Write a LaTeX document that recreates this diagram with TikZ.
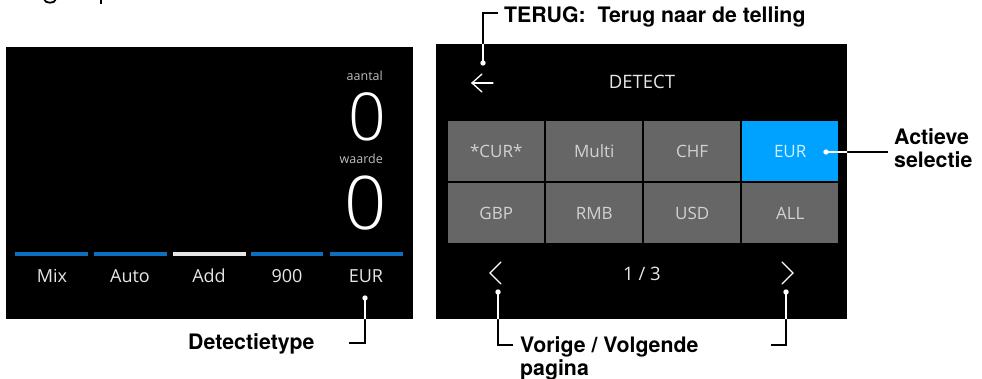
\documentclass[tikz,border=0pt]{standalone}
\usepackage{fontspec}
\setmainfont{TeX Gyre Heros}
\newfontfamily\scrfont{Open Sans}
\IfFontExistsTF{Open Sans Light}{\newfontfamily\thinfont{Open Sans Light}}{\newfontfamily\thinfont{Open Sans}}
\definecolor{cellgrey}{HTML}{666666}
\definecolor{selblue}{HTML}{00A2FF}
\definecolor{barblue}{HTML}{0E6FBF}
\definecolor{bartxt}{HTML}{E6E6E6}
\definecolor{celltxt}{HTML}{D2D2D2}
\definecolor{seltxt}{HTML}{D4EEFF}
\definecolor{smalltxt}{HTML}{BDBDBD}
\begin{document}
\begin{tikzpicture}[x=1pt,y=-1pt,
  scr/.style={fill=black,draw=none},
  cell/.style={fill=cellgrey,draw=none,minimum width=96pt,minimum height=60pt,inner sep=0pt,anchor=north west,
     text=celltxt,font=\scrfont\fontsize{17}{20}\selectfont},
  seltcell/.style={cell,fill=selblue,text=seltxt},
  bartext/.style={inner sep=0pt,anchor=base,text=bartxt,font=\scrfont\fontsize{18}{21}\selectfont},
  small/.style={inner sep=0pt,anchor=base east,text=smalltxt,font=\scrfont\fontsize{12.5}{14}\selectfont},
  big/.style={inner sep=0pt,anchor=center,text=white,font=\thinfont\fontsize{#1}{#1}\selectfont},
  lbl/.style={inner sep=0pt,anchor=base west,text=black,font=\fontsize{21.3}{24}\selectfont\bfseries},
  conn/.style={draw=black,line width=1.2pt},
  connw/.style={draw=white,line width=1.2pt},
  dotw/.style={fill=white,draw=none},
  icon/.style={draw=white,line width=1.3pt,line cap=round,line join=miter}
]
\useasboundingbox (0,0) rectangle (982,379);

% cut-off heading glyphs at the very top
\draw[black,line width=1.8pt] (44,-1) .. controls (45,4) and (55,4) .. (56,-1);
\draw[black,line width=1.8pt] (101,-1) -- (101,4);

% ================= left screen =================
\fill[scr] (6,47) rectangle (413,319);
\node[small] (aantal) at (383,81) {aantal};
\node[big=66] (zero1) at (367,116.5) {0};
\node[small] (waarde) at (383,164) {waarde};
\node[big=74] (zero2) at (365.5,203.5) {0};

\fill[barblue] (15,252) rectangle (88,256);
\fill[barblue] (94,252) rectangle (167,256);
\fill[bartxt] (173,252) rectangle (246,256);
\fill[barblue] (251,252) rectangle (323,256);
\fill[barblue] (330,252) rectangle (403,256);

\node[bartext] (mix) at (52,283) {Mix};
\node[bartext] (auto) at (130,283) {Auto};
\node[bartext] (add) at (209,283) {Add};
\node[bartext] (nine) at (287,283) {900};
\node[bartext] (eurl) at (366,283) {EUR};

% ================= right screen =================
\fill[scr] (436,44) rectangle (847,319);
\node[inner sep=0pt,anchor=base,text=bartxt,font=\scrfont\fontsize{18.5}{21}\selectfont] (detect) at (642,89) {DETECT};
% back arrow
\coordinate (backtip) at (472,83);
\draw[icon] (backtip) -- (493,83);
\draw[icon] (482,74) -- (backtip) -- (482,92);

\node[cell] (c11) at (448,121) {*CUR*};
\node[cell] (c12) at (546,121) {Multi};
\node[cell] (c13) at (644,121) {CHF};
\node[seltcell] (c14) at (742,121) {EUR};
\node[cell] (c21) at (448,183) {GBP};
\node[cell] (c22) at (546,183) {RMB};
\node[cell] (c23) at (644,183) {USD};
\node[cell] (c24) at (742,183) {ALL};

\draw[icon] (501,262) -- (490,273) -- (501,284);
\draw[icon] (782,262) -- (793,273) -- (782,284);
\node[inner sep=0pt,anchor=base,text=bartxt,font=\scrfont\fontsize{18.5}{21}\selectfont] (page) at (642,280) {1 / 3};

% ================= callout labels =================
\node[lbl] (terug) at (504,23) {TERUG:\ \ Terug naar de telling};
\node[lbl] (actieve) at (894,145) {Actieve};
\node[lbl] (selectie) at (894,168) {selectie};
\node[lbl] (detectie) at (188,349) {Detectietype};
\node[lbl] (vorige) at (520,352) {Vorige / Volgende};
\node[lbl] (pagina) at (520,375) {pagina};

% connector points
\coordinate (dT) at (483,63);  \coordinate (kT) at (483,13);  \coordinate (fT) at (498,13);
\coordinate (dA) at (826,152); \coordinate (fA) at (888,152);
\coordinate (dE) at (365,298); \coordinate (kE) at (365,343); \coordinate (fE) at (349,343);
\coordinate (dL) at (498,292); \coordinate (kL) at (498,345); \coordinate (fL) at (513,345);
\coordinate (dR) at (786,292); \coordinate (kR) at (786,345); \coordinate (fR) at (771,345);

\draw[conn] (dT) -- (kT) -- (fT);
\draw[conn] (dA) -- (fA);
\draw[conn] (dE) -- (kE) -- (fE);
\draw[conn] (dL) -- (kL) -- (fL);
\draw[conn] (dR) -- (kR) -- (fR);

% white parts of the connectors inside the screens
\begin{scope}
  \clip (6,47) rectangle (413,319) (436,44) rectangle (847,319);
  \draw[connw] (dT) -- (kT) -- (fT);
  \draw[connw] (dA) -- (fA);
  \draw[connw] (dE) -- (kE) -- (fE);
  \draw[connw] (dL) -- (kL) -- (fL);
  \draw[connw] (dR) -- (kR) -- (fR);
\end{scope}
\foreach \p in {dT,dA,dE,dL,dR} \fill[dotw] (\p) circle (2.7pt);
\end{tikzpicture}
\end{document}
